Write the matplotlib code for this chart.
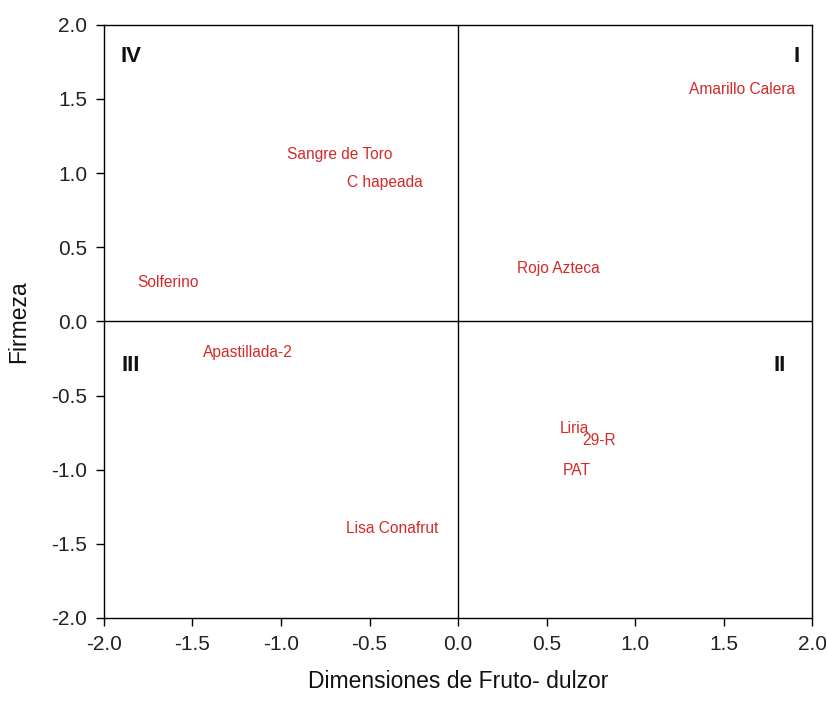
import matplotlib.pyplot as plt

plt.rcParams['font.family'] = ['Liberation Sans', 'DejaVu Sans']

# variedades y sus coordenadas (dulzor, firmeza)
variedades = ['Amarillo Calera', 'Sangre de Toro', 'C hapeada', 'Rojo Azteca',
              'Solferino', 'Apastillada-2', 'Liria', '29-R', 'PAT', 'Lisa Conafrut']
dulzor = [1.605, -0.667, -0.412, 0.565, -1.638, -1.186, 0.655, 0.795, 0.672, -0.373]
firmeza = [1.56, 1.128, 0.933, 0.359, 0.265, -0.207, -0.722, -0.805, -1.003, -1.394]

cuadrantes = ['IV', 'I', 'III', 'II']
cuad_x = [-1.847, 1.915, -1.847, 1.819]
cuad_y = [1.789, 1.789, -0.295, -0.295]

fig = plt.figure(figsize=(8.28, 7.1), dpi=100)
ax = fig.add_axes([0.1256, 0.1296, 0.8551, 0.8356])

ax.axhline(0, color='black', lw=1)
ax.axvline(0, color='black', lw=1)

for nombre, x, y in zip(variedades, dulzor, firmeza):
    ax.text(x, y, nombre, color='#d42a2a', fontsize=11.2, ha='center', va='center')

for c, x, y in zip(cuadrantes, cuad_x, cuad_y):
    ax.text(x, y, c, fontsize=16, fontweight='bold', ha='center', va='center',
            color='#111111')

ax.set_xlim(-2, 2)
ax.set_ylim(-2, 2)
ax.set_xticks([-2, -1.5, -1, -0.5, 0, 0.5, 1, 1.5, 2])
ax.set_yticks([-2, -1.5, -1, -0.5, 0, 0.5, 1, 1.5, 2])
ax.xaxis.set_major_formatter(plt.FormatStrFormatter('%.1f'))
ax.yaxis.set_major_formatter(plt.FormatStrFormatter('%.1f'))
ax.tick_params(labelsize=15, labelcolor='#222222', direction='out',
               length=6, width=1, pad=6)
for s in ax.spines.values():
    s.set_linewidth(1)

ax.set_xlabel('Dimensiones de Fruto- dulzor', fontsize=16.5, labelpad=12,
              color='#111111')
ax.set_ylabel('Firmeza', fontsize=16.5, labelpad=15, color='#111111')

plt.savefig('out.png', dpi=100)
